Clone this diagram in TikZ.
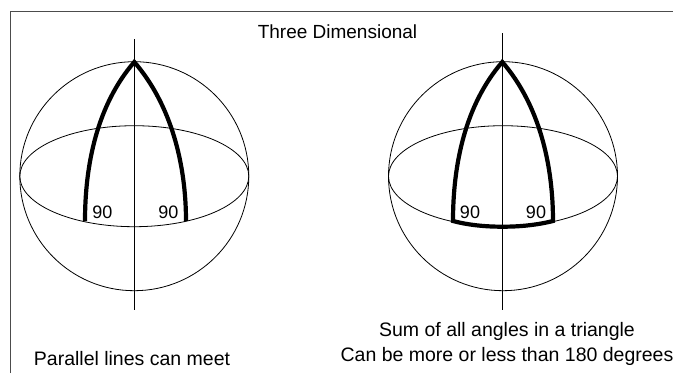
\documentclass[tikz,border=0pt]{standalone}
\usepackage{fontspec}
\setmainfont{Liberation Sans}
\usetikzlibrary{positioning,shapes.geometric}

\begin{document}
\begin{tikzpicture}[
    x=1pt, y=-1pt,
    framelin/.style={draw=black!70, line width=1pt},
    thinlin/.style={draw=black, line width=0.8pt},
    geolin/.style={draw=black, line width=4.2pt, line join=miter, miter limit=6},
    sphere/.style={circle, thinlin, minimum size=229pt, inner sep=0pt},
    equator/.style={ellipse, thinlin, minimum width=229pt, minimum height=101pt, inner sep=0pt},
    lbl/.style={font=\fontsize{19}{24.5}\selectfont, inner sep=0pt, align=center},
    caplbl/.style={font=\fontsize{19.5}{24.5}\selectfont, inner sep=0pt, align=center},
    anglbl/.style={font=\fontsize{18}{20}\selectfont, inner sep=0pt},
  ]
    \useasboundingbox (0,0) rectangle (673,373);

    % outer frame, open at the right and bottom
    \coordinate (fbl) at (10,373);
    \coordinate (ftl) at (10,11.5);
    \coordinate (ftr) at (673,11.5);
    \draw[framelin] (fbl) -- (ftl) -- (ftr);

    \node[lbl] (title) at (337.5,32) {Three Dimensional};

    % left sphere
    \node[sphere] (lsph) at (134.3,176.2) {};
    \node[equator] (leqt) at (134.3,176.2) {};
    \coordinate (laxt) at (134.3,39);
    \coordinate (laxb) at (134.3,310);
    \draw[thinlin] (laxt) -- (laxb);

    \coordinate (lapex) at (134.3,62);
    \coordinate (lfl) at (85,221);
    \coordinate (lfr) at (186,221);
    \draw[geolin] (lfl) .. controls (85,165) and (97,105) .. (lapex)
      .. controls (171.5,105) and (186,165) .. (lfr);

    \node[anglbl] (la) at (102.5,212) {90};
    \node[anglbl] (lb) at (168.5,212) {90};
    \node[caplbl] (lcap) at (132,359) {Parallel lines can meet};

    % right sphere
    \node[sphere] (rsph) at (503,176.2) {};
    \node[equator] (reqt) at (503,176.2) {};
    \coordinate (raxt) at (502.3,33);
    \coordinate (raxb) at (502.3,310);
    \draw[thinlin] (raxt) -- (raxb);

    \coordinate (rapex) at (502.3,62);
    \coordinate (rfl) at (453,221);
    \coordinate (rfr) at (553,221);
    % triangle closed along the equator
    \draw[geolin] (rfl) .. controls (453,165) and (465,105) .. (rapex)
      .. controls (539.5,105) and (553,165) .. (rfr)
      .. controls (537,225) and (520,226.7) .. (502.5,226.7)
      .. controls (485,226.7) and (468,225) .. (rfl) -- cycle;

    \node[anglbl] (ra) at (470,212) {90};
    \node[anglbl] (rb) at (536,212) {90};
    \node[caplbl] (rcap) at (507,344) {Sum of all angles in a triangle\\Can be more or less than 180 degrees};
  \end{tikzpicture}
\end{document}
